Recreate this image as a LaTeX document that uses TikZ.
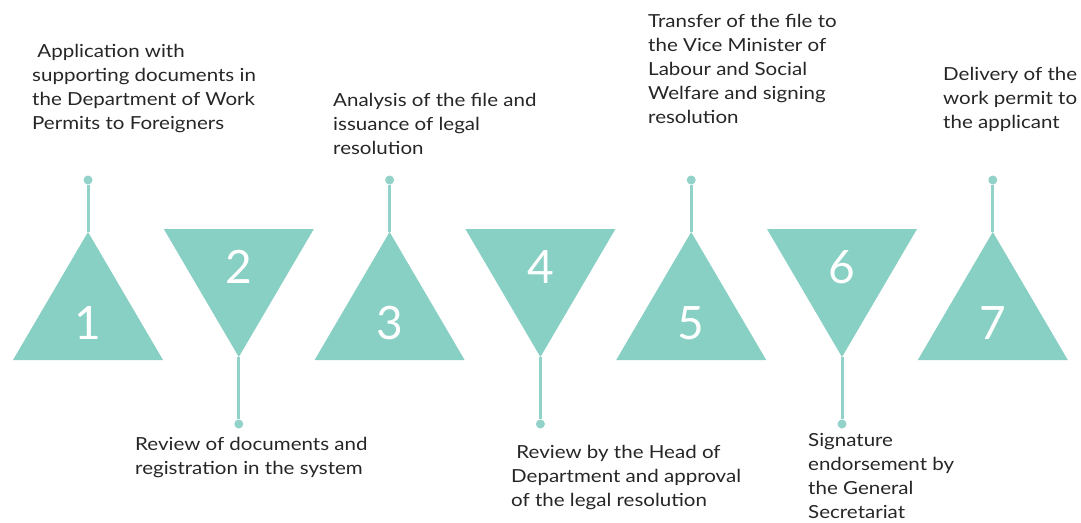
\documentclass[tikz,border=0pt]{standalone}
\usepackage{fontspec}
\setmainfont{Lato}
\newfontfamily\lblfont[FakeStretch=1.14]{Lato}
\definecolor{teal1}{HTML}{88CFC4}
\definecolor{stemc}{HTML}{93D2C8}
\definecolor{txt}{HTML}{262626}
\begin{document}
\begin{tikzpicture}[x=1pt,y=-1pt,
  tri/.style={fill=teal1,draw=none},
  num/.style={text=white,font={\fontsize{46}{46}\selectfont},inner sep=0},
  dot/.style={circle,fill=stemc,inner sep=0,minimum size=9pt},
  stem/.style={draw=stemc,line width=3pt},
  lbl/.style={text=txt,align=left,anchor=north west,inner sep=0,font={\lblfont\fontsize{18}{24}\selectfont}}]
\useasboundingbox (0,0) rectangle (1081,522);
% triangles
\def\hw{75}
\foreach \i/\cx in {1/88,3/389.6,5/691.2,7/992.8}{
  \fill[tri] (\cx-\hw,360) -- (\cx,232) -- (\cx+\hw,360) -- cycle;
  \coordinate (a\i) at (\cx,232);
  \node[num] (n\i) at (\cx,323) {\i};
  \node[dot] (d\i) at (\cx,180) {};
  \draw[stem] (a\i) -- (d\i);
}
\foreach \i/\cx in {2/238.8,4/540.4,6/842}{
  \fill[tri] (\cx-\hw,229) -- (\cx,357) -- (\cx+\hw,229) -- cycle;
  \coordinate (a\i) at (\cx,357);
  \node[num] (n\i) at (\cx,267) {\i};
  \node[dot] (d\i) at (\cx,424) {};
  \draw[stem] (a\i) -- (d\i);
}
% labels
\node[lbl] (l1) at (32,44) {\ Application with\\supporting documents in\\the Department of Work\\Permits to Foreigners};
\node[lbl] (l2) at (135,437) {Review of documents and\\registration in the system};
\node[lbl] (l3) at (333,93) {Analysis of the file and\\issuance of legal\\resolution};
\node[lbl] (l4) at (511,445) {\ Review by the Head of\\Department and approval\\of the legal resolution};
\node[lbl] (l5) at (648,14) {Transfer of the file to\\the Vice Minister of\\Labour and Social\\Welfare and signing\\resolution};
\node[lbl] (l6) at (808,433) {Signature\\endorsement by\\the General\\Secretariat};
\node[lbl] (l7) at (943,67) {Delivery of the\\work permit to\\the applicant};
\end{tikzpicture}
\end{document}
